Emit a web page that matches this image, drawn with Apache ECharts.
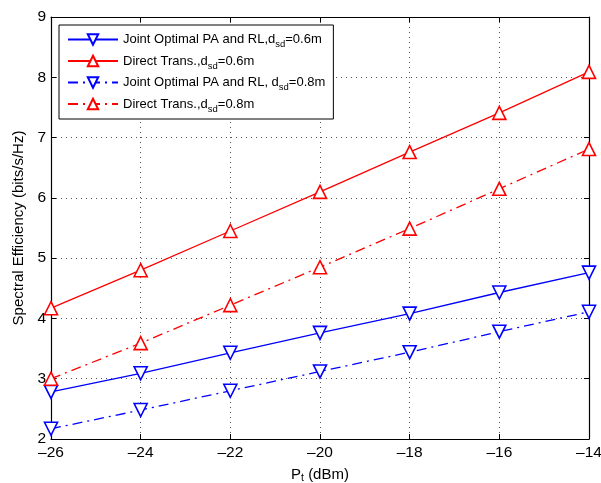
<!DOCTYPE html>
<html>
<head>
<meta charset="utf-8">
<script src="https://cdn.jsdelivr.net/npm/echarts@6/dist/echarts.min.js"></script>
<style>
    html, body {margin: 0; padding: 0; background: #fff;}
    #chart {width: 601px; height: 483px;}
</style>
</head>
<body>
<div id="chart"></div>
<script>
    // x 轴取值 (dBm)
    var powers = [-26, -24, -22, -20, -18, -16, -14];

    // 各曲线数值
    var jointNear = [2.78, 3.09, 3.43, 3.76, 4.08, 4.43, 4.76];
    var directNear = [4.17, 4.80, 5.45, 6.10, 6.76, 7.41, 8.09];
    var jointFar = [2.17, 2.48, 2.80, 3.12, 3.44, 3.78, 4.11];
    var directFar = [3.00, 3.59, 4.22, 4.85, 5.49, 6.15, 6.81];

    var seriesNames = [
        'Joint Optimal PA and RL,d{sub|sd}=0.6m',
        'Direct Trans.,d{sub|sd}=0.6m',
        'Joint Optimal PA and RL, d{sub|sd}=0.8m',
        'Direct Trans.,d{sub|sd}=0.8m'
    ];

    var chart = echarts.init(document.getElementById('chart'));

    var font = 'Liberation Sans, Arial, sans-serif';
    var dashDot = [10, 5, 2, 5];
    var subStyle = {fontSize: 9.5, fontFamily: font, color: '#000', padding: [10, 0, 0, 0]};

    function pairs(values) {
        return values.map(function (v, i) {
            return [powers[i], v];
        });
    }

    function minus(v) {
        return String(v).replace('-', '\u2013');
    }

    function makeSeries(name, values, color, dashed, down) {
        return {
            name: name,
            type: 'line',
            data: pairs(values),
            symbol: 'triangle',
            symbolSize: 13,
            symbolRotate: down ? 180 : 0,
            showAllSymbol: true,
            lineStyle: {color: color, width: 1.3, type: dashed ? dashDot : 'solid'},
            itemStyle: {color: '#fff', borderColor: color, borderWidth: 1.6, opacity: 1},
            emphasis: {disabled: true},
            z: 3
        };
    }

    var axisLine = {show: true, onZero: false, lineStyle: {color: '#000', width: 1.2}};
    var tickIn = {show: true, inside: true, length: 5, lineStyle: {color: '#000'}};
    var grid = {show: true, lineStyle: {color: '#555', type: [1, 4], width: 1}};

    var option = {
        animation: false,
        backgroundColor: '#fff',
        grid: {left: 51, right: 12, top: 17, bottom: 44, show: false, outerBoundsMode: 'none', containLabel: false},
        legend: {
            orient: 'vertical',
            left: 59,
            top: 25,
            padding: [8, 8, 5, 8],
            itemGap: 5,
            itemWidth: 50,
            itemHeight: 13,
            borderColor: '#000',
            borderWidth: 1,
            backgroundColor: '#fff',
            data: seriesNames,
            textStyle: {
                fontFamily: font,
                fontSize: 13,
                color: '#000',
                rich: {sub: subStyle}
            }
        },
        xAxis: [
            {
                type: 'value',
                min: -26,
                max: -14,
                interval: 2,
                name: 'P{sub|t} (dBm)',
                nameLocation: 'middle',
                nameGap: 27,
                nameTextStyle: {
                    fontFamily: font, fontSize: 15, color: '#000',
                    rich: {sub: {fontSize: 10.5, fontFamily: font, color: '#000', padding: [7, 0, 0, 0]}}
                },
                axisLine: axisLine,
                axisTick: tickIn,
                splitLine: grid,
                axisLabel: {
                    fontFamily: font, fontSize: 15.5, color: '#000', margin: 6,
                    formatter: minus
                }
            },
            {
                type: 'value',
                position: 'top',
                min: -26,
                max: -14,
                interval: 2,
                axisLine: axisLine,
                axisTick: tickIn,
                axisLabel: {show: false},
                splitLine: {show: false}
            }
        ],
        yAxis: [
            {
                type: 'value',
                min: 2,
                max: 9,
                interval: 1,
                name: 'Spectral Efficiency (bits/s/Hz)',
                nameLocation: 'middle',
                nameGap: 23,
                nameTextStyle: {fontFamily: font, fontSize: 15, color: '#000'},
                axisLine: axisLine,
                axisTick: tickIn,
                splitLine: grid,
                axisLabel: {fontFamily: font, fontSize: 15.5, color: '#000', margin: 5}
            },
            {
                type: 'value',
                position: 'right',
                min: 2,
                max: 9,
                interval: 1,
                axisLine: axisLine,
                axisTick: tickIn,
                axisLabel: {show: false},
                splitLine: {show: false}
            }
        ],
        series: [
            makeSeries(seriesNames[0], jointNear, '#0000ff', false, true),
            makeSeries(seriesNames[1], directNear, '#ff0000', false, false),
            makeSeries(seriesNames[2], jointFar, '#0000ff', true, true),
            makeSeries(seriesNames[3], directFar, '#ff0000', true, false)
        ]
    };

    chart.setOption(option);
</script>
</body>
</html>
